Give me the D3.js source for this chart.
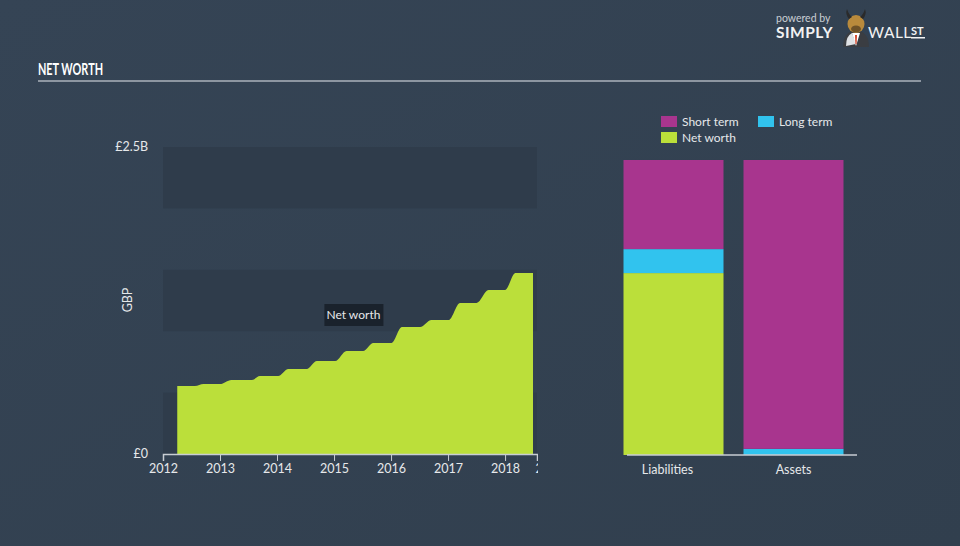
<!DOCTYPE html>
<html>
<head>
<meta charset="utf-8">
<script src="https://cdn.jsdelivr.net/npm/d3@7"></script>
<style>
  html, body { margin: 0; padding: 0; background: #344353; }
  svg { display: block; }
  text { font-family: Lato, "Open Sans", sans-serif; }
</style>
</head>
<body>
<svg id="chart" width="960" height="546"></svg>
<script>
// ---------- DATA ----------
const title = "NET WORTH";
const yTickLabels = ["£0", "£2.5B"];
const yTickValues = [0, 2.5e9];
const yAxisTitle = "GBP";
const xTickYears = [2012, 2013, 2014, 2015, 2016, 2017, 2018];
const xEndLabel = "2019";
// net worth history (decimal year, GBP) – plateaus
const nwDates = [2012.25, 2012.56, 2012.71, 2013.00, 2013.20, 2013.56, 2013.70, 2014.02,
                 2014.20, 2014.52, 2014.70, 2015.02, 2015.22, 2015.51, 2015.69, 2016.01,
                 2016.19, 2016.51, 2016.71, 2017.01, 2017.21, 2017.50, 2017.71, 2018.00,
                 2018.18, 2018.49];
const nwValues = [0.554e9, 0.554e9, 0.570e9, 0.570e9, 0.603e9, 0.603e9, 0.635e9, 0.635e9,
                  0.692e9, 0.692e9, 0.757e9, 0.757e9, 0.839e9, 0.839e9, 0.904e9, 0.904e9,
                  1.034e9, 1.034e9, 1.091e9, 1.091e9, 1.230e9, 1.230e9, 1.335e9, 1.335e9,
                  1.474e9, 1.474e9];
const tooltipLabel = "Net worth";
// balance sheet
const bsCategories = ["Liabilities", "Assets"];
const bsShortTerm = [0.725e9, 2.35e9];
const bsLongTerm  = [0.195e9, 0.05e9];
const bsNetWorth  = [1.48e9, 0];
const legendLabels = ["Short term", "Long term", "Net worth"];

// ---------- STYLE ----------
const C = {
  bg: "#344353", band: "#2f3c4b", text: "#e6e8ea", axis: "#c8cdd3",
  short: "#a8358e", long: "#31c3ee", net: "#bbdf3a", tip: "#1a222c", rule: "#8d96a1"
};

const svg = d3.select("#chart");

// background
const defs = svg.append("defs");
const g0 = defs.append("linearGradient").attr("id", "bg").attr("x1", 0).attr("y1", 0).attr("x2", 1).attr("y2", 1);
g0.append("stop").attr("offset", "0%").attr("stop-color", "#354455");
g0.append("stop").attr("offset", "100%").attr("stop-color", "#313f4e");
svg.append("rect").attr("width", 960).attr("height", 546).attr("fill", "url(#bg)");

// title + rule
svg.append("text").attr("x", 38).attr("y", 75).text(title)
  .attr("fill", "#ffffff").attr("font-family", "'Liberation Sans Narrow', 'DejaVu Sans Condensed', sans-serif")
  .attr("font-weight", "bold").attr("font-size", 17)
  .attr("textLength", 65).attr("lengthAdjust", "spacingAndGlyphs");
svg.append("rect").attr("x", 38).attr("y", 80).attr("width", 883).attr("height", 2).attr("fill", C.rule);

// logo
const logo = svg.append("g");
logo.append("text").attr("x", 776).attr("y", 22).text("powered by")
  .attr("fill", "#c9ced4").attr("font-size", 10.5);
logo.append("text").attr("x", 776).attr("y", 38).text("SIMPLY")
  .attr("fill", "#f2f2f2").attr("font-weight", "bold").attr("font-size", 15.5).attr("letter-spacing", 0.5);
logo.append("text").attr("x", 868).attr("y", 38).text("WALL")
  .attr("fill", "#f2f2f2").attr("font-size", 15.5).attr("letter-spacing", 0.5);
logo.append("text").attr("x", 911).attr("y", 35).text("ST")
  .attr("fill", "#f2f2f2").attr("font-weight", "bold").attr("font-size", 11);
logo.append("rect").attr("x", 911).attr("y", 37).attr("width", 14).attr("height", 1.5).attr("fill", "#f2f2f2");
// bull icon
logo.append("path").attr("d", "M843 47 Q843 32 856 30 Q869 32 869 47 Z").attr("fill", "#3a3d42");
logo.append("path").attr("d", "M846 46 Q846 36 852 33 L856 44 Z").attr("fill", "#dfe2e5");
logo.append("path").attr("d", "M852 33 L856 46 L860 33 Z").attr("fill", "#ffffff");
logo.append("path").attr("d", "M855 35 L857 35 L856.6 44 L855.4 44 Z").attr("fill", "#d2452a");
logo.append("ellipse").attr("cx", 856).attr("cy", 24).attr("rx", 8.5).attr("ry", 9).attr("fill", "#b98a3c");
logo.append("ellipse").attr("cx", 856).attr("cy", 29).attr("rx", 5).attr("ry", 3.5).attr("fill", "#6e5228");
logo.append("path").attr("d", "M849 19 Q845 14 847 9 Q849 15 852 17 Z").attr("fill", "#2a2a2a");
logo.append("path").attr("d", "M863 19 Q867 14 865 9 Q863 15 860 17 Z").attr("fill", "#2a2a2a");

// ---------- LEFT: NET WORTH HISTORY ----------
const x = d3.scaleLinear().domain([2012, 2018.56]).range([163, 537]);
const y = d3.scaleLinear().domain([0, 2.5e9]).range([454, 147]);

// alternating bands
const bandEdges = d3.range(0, 2.5e9 + 1, 0.5e9);
const darkBands = bandEdges.slice(0, -1).filter((d, i) => i % 2 === 0);
svg.append("g").selectAll("rect").data(darkBands).join("rect")
  .attr("x", x.range()[0]).attr("width", x.range()[1] - x.range()[0])
  .attr("y", d => y(d + 0.5e9)).attr("height", d => y(d) - y(d + 0.5e9))
  .attr("fill", C.band);

// area
const nwData = nwDates.map((d, i) => ({ t: d, v: nwValues[i] }));
const area = d3.area().x(d => x(d.t)).y0(y(0)).y1(d => y(d.v)).curve(d3.curveMonotoneX);
svg.append("path").datum(nwData).attr("d", area).attr("fill", C.net);

// y labels
svg.append("g").selectAll("text").data(yTickValues).join("text")
  .attr("x", 148).attr("y", d => y(d)).attr("dy", "0.35em")
  .attr("text-anchor", "end").attr("fill", C.text).attr("font-size", 12.5)
  .text((d, i) => yTickLabels[i]);
svg.append("text").attr("transform", "translate(132,300) rotate(-90)")
  .attr("text-anchor", "middle").attr("fill", C.text).attr("font-size", 12.5).text(yAxisTitle);

// x axis (clip rect is in the axis group's own coordinates)
defs.append("clipPath").attr("id", "xclip").append("rect")
  .attr("x", 100).attr("y", -10).attr("width", 438).attr("height", 40);
const xAxis = d3.axisBottom(x).tickValues(xTickYears.concat([x.domain()[1]]))
  .tickFormat(d => xTickYears.includes(d) ? String(d) : xEndLabel).tickSizeOuter(0).tickSize(7);
const gx = svg.append("g").attr("transform", `translate(0,${y(0)})`).attr("clip-path", "url(#xclip)").call(xAxis);
gx.select(".domain").attr("stroke", C.axis).attr("stroke-width", 1.5);
gx.selectAll(".tick line").attr("stroke", C.axis);
gx.selectAll(".tick text").attr("fill", C.text).attr("font-size", 12.5)
  .attr("font-family", "Lato, 'Open Sans', sans-serif").attr("y", 10);
gx.selectAll(".tick text").filter(d => !xTickYears.includes(d))
  .attr("text-anchor", "start").attr("dx", -2);

// tooltip
const tipX = x(2015.34), tipY = 315;
const tip = svg.append("g").attr("transform", `translate(${tipX},${tipY})`);
tip.append("rect").attr("x", -29).attr("y", -11).attr("width", 59).attr("height", 22).attr("fill", C.tip);
tip.append("text").attr("text-anchor", "middle").attr("dy", "0.35em").attr("fill", C.text)
  .attr("font-size", 12).text(tooltipLabel);

// ---------- RIGHT: BALANCE SHEET ----------
const xb = d3.scaleBand().domain(bsCategories).range([623.5, 843.5]).paddingInner(1 / 6).paddingOuter(0);
const yb = d3.scaleLinear().domain([0, 2.5e9]).range([455, 147.7]);
const rows = bsCategories.map((c, i) => ({ cat: c, net: bsNetWorth[i], long: bsLongTerm[i], short: bsShortTerm[i] }));
const keys = ["net", "long", "short"];
const colors = { net: C.net, long: C.long, short: C.short };
const stacked = d3.stack().keys(keys)(rows);
svg.append("g").selectAll("g").data(stacked).join("g").attr("fill", s => colors[s.key])
  .selectAll("rect").data(s => s).join("rect")
  .attr("x", d => xb(d.data.cat)).attr("width", xb.bandwidth())
  .attr("y", d => yb(d[1])).attr("height", d => yb(d[0]) - yb(d[1]));

svg.append("line").attr("x1", 627).attr("x2", 857).attr("y1", yb(0)).attr("y2", yb(0))
  .attr("stroke", C.axis).attr("stroke-width", 1.5);
svg.append("g").selectAll("text").data(bsCategories).join("text")
  .attr("x", d => xb(d) + xb.bandwidth() / 2 - (d === "Liabilities" ? 6 : 0)).attr("y", 474)
  .attr("text-anchor", "middle").attr("fill", C.text).attr("font-size", 12.5).text(d => d);

// legend
const legendItems = [
  { label: legendLabels[0], color: C.short, x: 661, y: 116 },
  { label: legendLabels[1], color: C.long, x: 758, y: 116 },
  { label: legendLabels[2], color: C.net, x: 661, y: 132 }
];
const lg = svg.append("g").selectAll("g").data(legendItems).join("g")
  .attr("transform", d => `translate(${d.x},${d.y})`);
lg.append("rect").attr("width", 16).attr("height", 11).attr("fill", d => d.color);
lg.append("text").attr("x", 21).attr("y", 6).attr("dy", "0.35em").attr("fill", C.text)
  .attr("font-size", 12).text(d => d.label);
</script>
</body>
</html>
